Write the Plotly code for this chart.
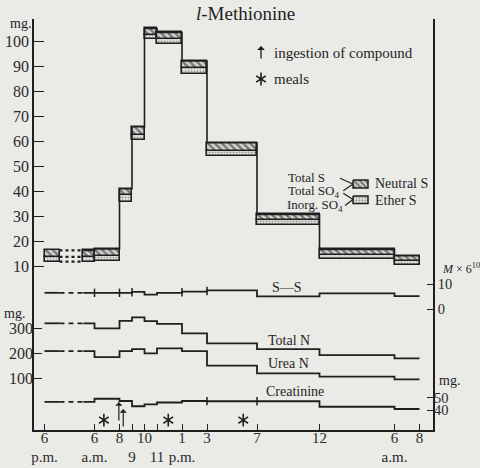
import plotly.graph_objects as go

# ---------------- data ----------------
# time axis: hours after 6 a.m.; the night 6 p.m. -> 6 a.m. is drawn compressed (-4 .. 0)
edges = [-4, 0, 2, 3, 4, 5, 7, 9, 13, 18, 24, 26]
night_break = [-2.8, -0.9]

# upper panel (mg), one value per collection period
total_s   = [16.5, 17.1, 41.2, 66.0, 105.3, 103.7, 92.3, 59.6, 30.9, 16.9, 14.4]
total_so4 = [13.9, 14.2, 38.7, 62.7, 102.7, 101.0, 89.4, 56.3, 28.5, 14.5, 12.2]
inorg_so4 = [12.0, 12.3, 36.0, 60.7, 101.0, 99.1, 87.1, 54.3, 26.6, 13.0, 10.5]

# lower panel
ss         = [6.6, 6.6, 6.6, 7.0, 5.9, 6.6, 7.1, 7.6, 5.2, 6.4, 5.3]      # M x 6^10
total_n    = [320, 300, 330, 344, 329, 318, 280, 240, 217, 193, 180]      # mg
urea_n     = [209, 185, 209, 217, 200, 220, 209, 151, 120, 107, 96]       # mg
creatinine = [46.5, 49.0, 47.2, 43.0, 44.5, 46.0, 47.2, 47.0, 47.0, 42.6, 40.8]  # mg

meal_times = [0.75, 5.9, 11.9]
ingestion_times = [1.95, 2.3]

tick_vals = [-4, 0, 2, 3, 4, 5, 7, 9, 13, 18, 24, 26]
tick_text = ["6<br>p.m.", "6<br>a.m.", "8", " <br>9", "10", " <br>11",
             "1<br>p.m.", "3", "7", "12", "6<br>a.m.", "8"]
long_ticks = [3, 5]

left_ticks_upper = [10, 20, 30, 40, 50, 60, 70, 80, 90, 100]
left_ticks_lower = [100, 200, 300]
right_ticks_ss = [0, 10]
right_ticks_cr = [40, 50]

# ---------------- style ----------------
BG = "#eaeae7"
INK = "#1f1f1f"
SERIF = "Liberation Serif"
W, H = 480, 468
ML, MR, MT, MB = 34, 47, 19, 38
PW, PH = W - ML - MR, H - MT - MB


def px(x):
    return (x - ML) / PW


def py(y):
    return (H - MB - y) / PH


fig = go.Figure()

# ---- boxes (upper panel) ----
seg = []
for i in range(len(total_s)):
    a, b = edges[i], edges[i + 1]
    if i == 0:
        seg.append((a, night_break[0], i))
        seg.append((night_break[1], b, i))
    else:
        seg.append((a, b, i))
cx = [(a + b) / 2 for a, b, _ in seg]
wd = [b - a for a, b, _ in seg]
ii = [i for _, _, i in seg]

fig.add_trace(go.Bar(
    x=cx, width=wd, base=[inorg_so4[i] for i in ii],
    y=[total_so4[i] - inorg_so4[i] for i in ii],
    marker=dict(color="#dcdcd8",
                pattern=dict(shape=".", size=3, solidity=0.35, fgcolor="#555", bgcolor="#e2e2de"),
                line=dict(color=INK, width=1.6)),
    xaxis="x", yaxis="y", showlegend=False, hoverinfo="skip"))
fig.add_trace(go.Bar(
    x=cx, width=wd, base=[total_so4[i] for i in ii],
    y=[total_s[i] - total_so4[i] for i in ii],
    marker=dict(color="#d0d0cc",
                pattern=dict(shape="\\", size=5, solidity=0.5, fgcolor="#1e1e1e", bgcolor="#d6d6d2"),
                line=dict(color=INK, width=1.6)),
    xaxis="x", yaxis="y", showlegend=False, hoverinfo="skip"))

# step connectors along Total S
fig.add_trace(go.Scatter(
    x=[night_break[1]] + edges[1:], y=total_s + [total_s[-1]],
    mode="lines", line=dict(color=INK, width=1.6, shape="hv"),
    xaxis="x", yaxis="y", showlegend=False, hoverinfo="skip"))
# dotted continuation of the night box
for lev in (total_s[0], total_so4[0], inorg_so4[0]):
    fig.add_trace(go.Scatter(
        x=night_break, y=[lev, lev], mode="lines",
        line=dict(color=INK, width=2.2, dash="3px,3px"),
        xaxis="x", yaxis="y", showlegend=False, hoverinfo="skip"))


# ---- lower step lines ----
def step_series(vals, yax, tick_thr=None):
    v0 = vals[0]
    fig.add_trace(go.Scatter(x=[edges[0], night_break[0]], y=[v0, v0], mode="lines",
                             line=dict(color=INK, width=1.8), yaxis=yax,
                             showlegend=False, hoverinfo="skip"))
    fig.add_trace(go.Scatter(x=night_break, y=[v0, v0], mode="lines",
                             line=dict(color=INK, width=1.8, dash="5px,4px"), yaxis=yax,
                             showlegend=False, hoverinfo="skip"))
    fig.add_trace(go.Scatter(x=[night_break[1]] + edges[1:], y=vals + [vals[-1]],
                             mode="lines", line=dict(color=INK, width=1.8, shape="hv"),
                             yaxis=yax, showlegend=False, hoverinfo="skip"))
    if tick_thr is not None:
        tx, ty = [], []
        for k in range(1, len(vals)):
            if abs(vals[k] - vals[k - 1]) <= tick_thr:
                tx.append(edges[k])
                ty.append((vals[k] + vals[k - 1]) / 2)
        fig.add_trace(go.Scatter(x=tx, y=ty, mode="markers",
                                 marker=dict(symbol="line-ns-open", size=6, color=INK,
                                             line=dict(color=INK, width=1.5)),
                                 yaxis=yax, showlegend=False, hoverinfo="skip"))


step_series(ss, "y3", tick_thr=0.5)
step_series(total_n, "y2")
step_series(urea_n, "y2")
step_series(creatinine, "y4", tick_thr=0.5)

# meals: six-armed asterisks (two overlaid three-armed symbols)
for sym in ("y-up-open", "y-down-open"):
    fig.add_trace(go.Scatter(x=meal_times, y=[-67] * len(meal_times), mode="markers",
                             marker=dict(symbol=sym, size=8, color=INK,
                                         line=dict(color=INK, width=1.6)),
                             yaxis="y2", showlegend=False, hoverinfo="skip"))

# legend swatches on a pixel overlay axis
fig.add_trace(go.Scatter(x=[353, 368, 368, 353, 353], y=[180, 180, 188, 188, 180],
                         mode="lines", fill="toself", fillcolor="#d0d0cc",
                         fillpattern=dict(shape="\\", size=4, solidity=0.5, fgcolor="#222", bgcolor="#d0d0cc"),
                         line=dict(color=INK, width=1.5), xaxis="x3", yaxis="y5",
                         showlegend=False, hoverinfo="skip"))
fig.add_trace(go.Scatter(x=[353, 368, 368, 353, 353], y=[196, 196, 203.5, 203.5, 196],
                         mode="lines", fill="toself", fillcolor="#dcdcd8",
                         fillpattern=dict(shape=".", size=3, solidity=0.4, fgcolor="#555", bgcolor="#e0e0dc"),
                         line=dict(color=INK, width=1.5), xaxis="x3", yaxis="y5",
                         showlegend=False, hoverinfo="skip"))
for pts in ([(340, 178.3), (353, 184), (343.3, 190.7)],
            [(343.3, 193.3), (353, 199.5), (345, 205.5)]):
    fig.add_trace(go.Scatter(x=[p[0] for p in pts], y=[p[1] for p in pts], mode="lines",
                             line=dict(color=INK, width=1.2), xaxis="x3", yaxis="y5",
                             showlegend=False, hoverinfo="skip"))
# legend asterisk
fig.add_trace(go.Scatter(x=[261] * 2, y=[79, 79], mode="markers",
                         marker=dict(symbol=["y-up-open", "y-down-open"], size=8, color=INK,
                                     line=dict(color=INK, width=1.6)),
                         xaxis="x3", yaxis="y5", showlegend=False, hoverinfo="skip"))

# ---------------- axes ----------------
xr = [(ML - 94.5) / 12.5, (W - MR - 94.5) / 12.5]
top_px, bot_px = MT, H - MB


def rng(v_at, scale):
    y0, v0 = v_at
    return [v0 - (bot_px - y0) / scale, v0 + (y0 - top_px) / scale]


tickfont = dict(family=SERIF, size=16, color="#2a2a2a")
rfont = dict(family=SERIF, size=14.5, color="#2a2a2a")
fig.update_layout(
    width=W, height=H, margin=dict(l=ML, r=MR, t=MT, b=MB, autoexpand=False),
    paper_bgcolor=BG, plot_bgcolor=BG, barmode="overlay", bargap=0,
    xaxis=dict(range=xr, showgrid=False, zeroline=False, showline=True, linecolor=INK,
               linewidth=1.8, ticks="inside", ticklen=6, tickwidth=1.4, tickcolor=INK,
               tickvals=tick_vals, ticktext=tick_text, tickangle=0, automargin=False,
               ticklabelstandoff=-7,
               tickfont=dict(family=SERIF, size=15, color="#2a2a2a")),
    xaxis2=dict(range=xr, overlaying="x", anchor="y", side="bottom", showgrid=False,
                zeroline=False, showline=False, ticks="outside", ticklen=10, tickwidth=1.4,
                tickcolor=INK, tickvals=long_ticks, showticklabels=False, automargin=False),
    xaxis3=dict(range=[ML, W - MR], overlaying="x", anchor="y5", visible=False),
    yaxis=dict(range=rng((41.7, 100), 2.5), showgrid=False, zeroline=False, showline=True,
               linecolor=INK, linewidth=1.8, ticks="inside", ticklen=10, tickwidth=1.4,
               tickcolor=INK, tickvals=left_ticks_upper, tickfont=tickfont, automargin=False),
    yaxis2=dict(range=rng((403.3, 0), 0.25), overlaying="y", side="left", anchor="x",
                showgrid=False, zeroline=False, showline=False, ticks="inside", ticklen=8,
                tickwidth=1.4, tickcolor=INK, tickvals=left_ticks_lower, tickfont=tickfont,
                automargin=False),
    yaxis3=dict(range=rng((309.3, 0), 2.5), overlaying="y", side="right", anchor="x",
                showgrid=False, zeroline=False, showline=True, linecolor=INK, linewidth=1.8,
                ticks="inside", ticklen=6, tickwidth=1.4, tickcolor=INK,
                tickvals=right_ticks_ss, tickfont=rfont, automargin=False),
    yaxis4=dict(range=rng((397.5, 50), 1.25), overlaying="y", side="right", anchor="x",
                showgrid=False, zeroline=False, showline=False, ticks="inside", ticklen=6,
                tickwidth=1.4, tickcolor=INK, tickvals=right_ticks_cr, tickfont=rfont,
                automargin=False),
    yaxis5=dict(range=[bot_px, top_px], overlaying="y", anchor="x3", visible=False),
)

# ---------------- annotations ----------------
ann = []


def text(x, y, s, size=14, xa="center", family=SERIF):
    ann.append(dict(x=px(x), y=py(y), xref="paper", yref="paper", text=s, showarrow=False,
                    xanchor=xa, yanchor="middle",
                    font=dict(family=family, size=size, color=INK)))


text(245, 13, "<i>l</i>-Methionine", size=19)
text(272, 53, "ingestion of compound", size=15, xa="left")
text(272, 79, "meals", size=15, xa="left")
text(286, 177, "Total S", size=13, xa="left")
text(286, 191, "Total SO<sub>4</sub>", size=13, xa="left")
text(285, 205, "Inorg. SO<sub>4</sub>", size=13, xa="left")
text(373, 184, "Neutral S", size=14, xa="left")
text(373, 200, "Ether S", size=14, xa="left")
text(287, 287, "S—S", size=14)
text(289, 340, "Total N", size=14)
text(288, 363, "Urea N", size=14)
text(295, 391, "Creatinine", size=14)
text(20, 24, "mg.", size=14)
text(14, 313, "mg.", size=14)
text(437, 380, "mg.", size=14, xa="left")
text(440, 268, "<i>M</i> × 6<sup>10</sup>", size=12, xa="left")

# legend arrow
ann.append(dict(x=px(261), y=py(46), xref="paper", yref="paper", ax=0, ay=14,
                axref="pixel", ayref="pixel", showarrow=True, arrowhead=1, arrowsize=1,
                arrowwidth=1.3, arrowcolor=INK, text=""))

heads = [(5, -75), (-23, -99)]
for t, (hy, ty) in zip(ingestion_times, heads):
    ann.append(dict(x=t, y=hy, xref="x", yref="y2", ax=t, ay=ty, axref="x", ayref="y2",
                    showarrow=True, arrowhead=1, arrowsize=1, arrowwidth=1.2,
                    arrowcolor=INK, text=""))

fig.update_layout(annotations=ann)
fig.write_html("out.html", config={"displayModeBar": False},
               post_script="document.body.style.margin='0';document.body.style.padding='0';")
